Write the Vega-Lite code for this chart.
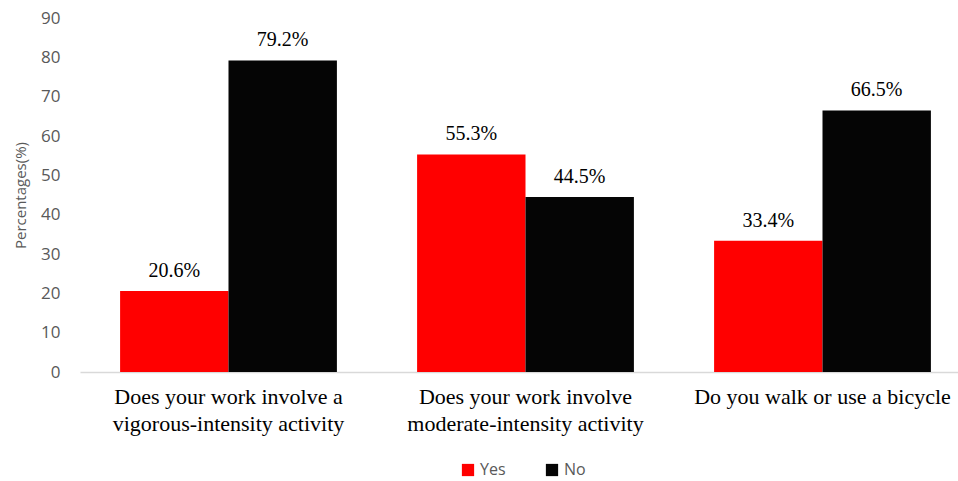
{
  "$schema": "https://vega.github.io/schema/vega-lite/v6.json",
  "width": 878,
  "height": 354,
  "autosize": "none",
  "padding": {"left": 80, "top": 18, "right": 0, "bottom": 109},
  "background": "white",
  "config": {"view": {"stroke": null}},
  "data": {
    "values": [
      {"question": "Does your work involve a vigorous-intensity activity", "answer": "Yes", "pct": 20.6, "label": "20.6%"},
      {"question": "Does your work involve a vigorous-intensity activity", "answer": "No", "pct": 79.2, "label": "79.2%"},
      {"question": "Does your work involve moderate-intensity activity", "answer": "Yes", "pct": 55.3, "label": "55.3%"},
      {"question": "Does your work involve moderate-intensity activity", "answer": "No", "pct": 44.5, "label": "44.5%"},
      {"question": "Do you walk or use a bicycle", "answer": "Yes", "pct": 33.4, "label": "33.4%"},
      {"question": "Do you walk or use a bicycle", "answer": "No", "pct": 66.5, "label": "66.5%"}
    ]
  },
  "encoding": {
    "x": {
      "field": "question", "type": "nominal", "sort": null,
      "scale": {"range": [0, 891], "paddingInner": 0.27, "paddingOuter": 0.135},
      "axis": {
        "title": null, "labelAngle": 0, "ticks": false, "domainColor": "#d9d9d9", "domainWidth": 1.5,
        "labelFont": "Liberation Serif", "labelFontSize": 22, "labelColor": "#000000",
        "labelPadding": 14, "labelLineHeight": 27, "labelLimit": 400,
        "labelExpr": "datum.value == 'Does your work involve a vigorous-intensity activity' ? ['Does your work involve a', 'vigorous-intensity activity'] : datum.value == 'Does your work involve moderate-intensity activity' ? ['Does your work involve', 'moderate-intensity activity'] : datum.value"
      }
    },
    "xOffset": {"field": "answer", "type": "nominal", "sort": ["Yes", "No"], "scale": {"paddingInner": 0, "paddingOuter": 0}},
    "y": {
      "field": "pct", "type": "quantitative",
      "scale": {"domain": [0, 90], "nice": false},
      "axis": {
        "title": "Percentages(%)", "values": [0, 10, 20, 30, 40, 50, 60, 70, 80, 90],
        "labelOverlap": false, "labelBound": false,
        "grid": false, "domain": false, "ticks": false,
        "labelFont": "Open Sans", "labelFontSize": 17, "labelColor": "#595959", "labelPadding": 20,
        "titleFont": "Open Sans", "titleFontSize": 15, "titleFontWeight": "normal", "titleColor": "#595959",
        "titlePadding": 12
      }
    }
  },
  "layer": [
    {
      "mark": {"type": "bar"},
      "encoding": {
        "color": {
          "field": "answer", "type": "nominal", "sort": ["Yes", "No"],
          "scale": {"domain": ["Yes", "No"], "range": ["#ff0000", "#050505"]},
          "legend": {
            "title": null, "orient": "none", "direction": "horizontal",
            "legendX": 380, "legendY": 444,
            "symbolType": "square", "symbolSize": 150, "symbolStrokeWidth": 0,
            "labelFont": "Open Sans", "labelFontSize": 16, "labelColor": "#595959",
            "columnPadding": 38, "labelOffset": 4
          }
        }
      }
    },
    {
      "mark": {"type": "text", "dy": -10, "font": "Liberation Serif", "fontSize": 20, "color": "#000000", "baseline": "bottom"},
      "encoding": {
        "text": {"field": "label", "type": "nominal"}
      }
    }
  ]
}
